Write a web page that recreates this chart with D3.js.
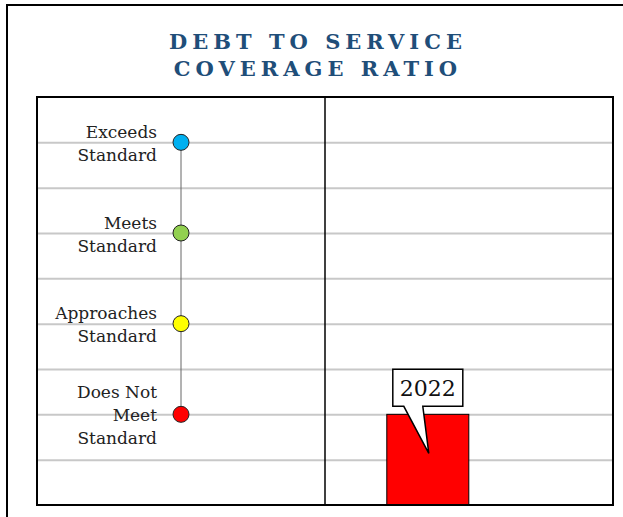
<!DOCTYPE html>
<html>
<head>
<meta charset="utf-8">
<script src="https://cdn.jsdelivr.net/npm/d3@7"></script>
<style>
  body { margin: 0; background: #fff; }
  text { font-family: "DejaVu Serif", serif; }
</style>
</head>
<body>
<script>
// chart data
var titleLines = ["DEBT TO SERVICE", "COVERAGE RATIO"];
var levelNames = [["Does Not", "Meet", "Standard"], ["Approaches", "Standard"],
                  ["Meets", "Standard"], ["Exceeds", "Standard"]];
var levelValues = [2, 4, 6, 8];
var levelColors = ["#ff0000", "#ffff00", "#92d050", "#00b0f0"];
var gridValues = [1, 2, 3, 4, 5, 6, 7, 8];
var years = ["2022"];
var yearValues = [2];

// size
var w = 623, h = 517;
var plotLeft = 37, plotRight = 613, plotTop = 97, plotBottom = 505, divider = 325;

var svg = d3.select("body").append("svg")
  .attr("width", w)
  .attr("height", h);

// outer frame
svg.append("rect")
  .attr("x", 7).attr("y", 5)
  .attr("width", 640).attr("height", 540)
  .attr("fill", "none").attr("stroke", "#000").attr("stroke-width", 2);

// title
svg.selectAll(".title")
  .data(titleLines)
  .enter()
  .append("text")
  .attr("x", 318)
  .attr("y", function(d, i) { return 49 + i * 27; })
  .attr("text-anchor", "middle")
  .attr("fill", "#1f4e79")
  .style("font-size", "21px")
  .style("font-weight", "bold")
  .style("letter-spacing", "5px")
  .text(function(d) { return d; });

var yScale = d3.scaleLinear().domain([0, 9]).range([plotBottom, plotTop]);
var xScale = d3.scaleBand().domain(years).range([divider, plotRight])
  .paddingInner(0).paddingOuter(1.256).align(0.3);

// gridlines
var yAxis = d3.axisLeft(yScale).tickValues(gridValues)
  .tickSize(-(plotRight - plotLeft)).tickFormat("");
var grid = svg.append("g")
  .attr("transform", "translate(" + plotLeft + ",0)")
  .call(yAxis);
grid.select(".domain").remove();
grid.selectAll("line").attr("stroke", "#c8c8c8").attr("stroke-width", 2);

// vertical line through levels
svg.append("line")
  .attr("x1", 181).attr("x2", 181)
  .attr("y1", yScale(d3.max(levelValues)))
  .attr("y2", yScale(d3.min(levelValues)))
  .attr("stroke", "#666").attr("stroke-width", 1);

// level dots
svg.selectAll(".dot")
  .data(levelValues)
  .enter()
  .append("circle")
  .attr("cx", 181)
  .attr("cy", function(d) { return yScale(d); })
  .attr("r", 8)
  .attr("fill", function(d, i) { return levelColors[i]; })
  .attr("stroke", "#222").attr("stroke-width", 1);

// level labels
levelNames.forEach(function(lines, i) {
  var cy = yScale(levelValues[i]);
  var lh = 23;
  var start = cy - (lines.length - 1) * lh / 2 + 7;
  var t = svg.append("text")
    .attr("text-anchor", "end")
    .attr("fill", "#222")
    .style("font-size", "17px");
  lines.forEach(function(l, j) {
    t.append("tspan").attr("x", 157).attr("y", start + j * lh).text(l);
  });
});

// bars
svg.selectAll(".bar")
  .data(yearValues)
  .enter()
  .append("rect")
  .attr("x", function(d, i) { return xScale(years[i]); })
  .attr("y", function(d) { return yScale(d); })
  .attr("width", xScale.bandwidth())
  .attr("height", function(d) { return plotBottom - yScale(d); })
  .attr("fill", "#ff0000")
  .attr("stroke", "#000").attr("stroke-width", 1);

// callouts
yearValues.forEach(function(d, i) {
  var cx = xScale(years[i]) + xScale.bandwidth() / 2;
  var tipY = yScale(d) + 39;
  var bx = cx - 35, by = yScale(d) - 45, bw = 70, bh = 37;
  var path = "M" + bx + "," + by + " h" + bw + " v" + bh +
    " H" + (cx - 5) + " L" + (cx + 1) + "," + tipY +
    " L" + (cx - 24) + "," + (by + bh) + " H" + bx + " Z";
  svg.append("path")
    .attr("d", path)
    .attr("fill", "#fff").attr("stroke", "#000").attr("stroke-width", 1.5);
  svg.append("text")
    .attr("x", cx)
    .attr("y", by + 27)
    .attr("text-anchor", "middle")
    .attr("fill", "#111")
    .style("font-size", "22px")
    .text(years[i]);
});

// plot frame and divider
svg.append("rect")
  .attr("x", plotLeft).attr("y", plotTop)
  .attr("width", plotRight - plotLeft).attr("height", plotBottom - plotTop)
  .attr("fill", "none").attr("stroke", "#000").attr("stroke-width", 2);
svg.append("line")
  .attr("x1", divider).attr("x2", divider)
  .attr("y1", plotTop).attr("y2", plotBottom)
  .attr("stroke", "#000").attr("stroke-width", 1.5);
</script>
</body>
</html>
